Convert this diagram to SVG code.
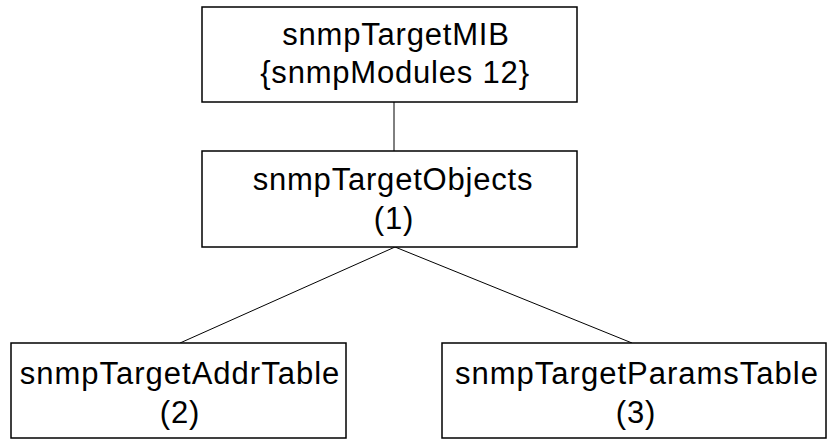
<svg xmlns="http://www.w3.org/2000/svg" width="830" height="439" viewBox="0 0 830 439">
<style>
rect{fill:#fff;stroke:#000;stroke-width:1.5}
line{stroke:#000;stroke-width:1}
text{font-family:"Liberation Sans",Arial,sans-serif;font-size:31px;letter-spacing:0.8px;text-anchor:middle;fill:#000}
</style>
<rect x="0" y="0" width="830" height="439" style="stroke:none"/>
<g id="connectors">
<line x1="394" y1="102" x2="394" y2="151"/>
<line x1="395" y1="247" x2="180" y2="343"/>
<line x1="395" y1="247" x2="632" y2="343"/>
</g>
<g id="snmpTargetMIB">
<rect x="202" y="7" width="375" height="95"/>
<text x="396" y="45">snmpTargetMIB</text>
<text x="395" y="83">{snmpModules 12}</text>
</g>
<g id="snmpTargetObjects">
<rect x="202" y="151" width="375" height="96"/>
<text x="393" y="190">snmpTargetObjects</text>
<text x="394" y="229">(1)</text>
</g>
<g id="snmpTargetAddrTable">
<rect x="11" y="343" width="335" height="95"/>
<text x="180" y="384" style="letter-spacing:1px">snmpTargetAddrTable</text>
<text x="180" y="423">(2)</text>
</g>
<g id="snmpTargetParamsTable">
<rect x="442" y="343" width="384" height="95"/>
<text x="637" y="384" style="letter-spacing:1px">snmpTargetParamsTable</text>
<text x="636" y="423">(3)</text>
</g>
</svg>
